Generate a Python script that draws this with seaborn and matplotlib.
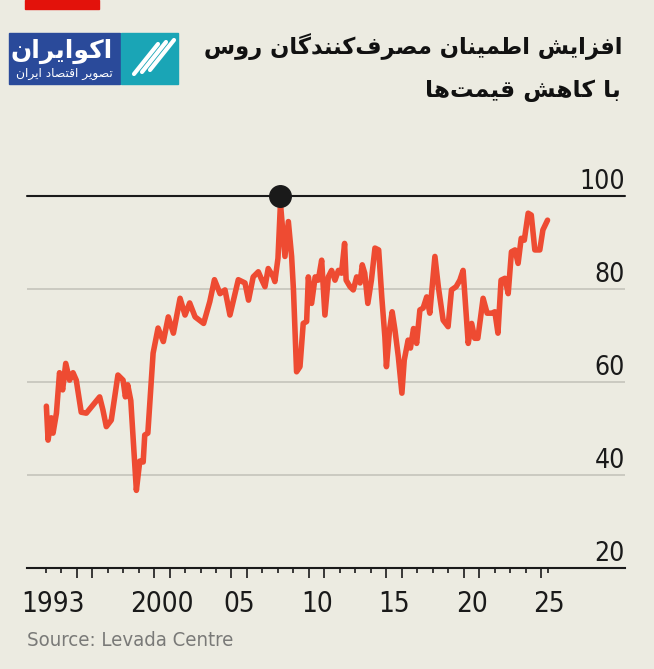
import matplotlib
matplotlib.use("Agg")
import matplotlib.pyplot as plt
import seaborn as sns
import pandas as pd
from matplotlib import font_manager as fm
from matplotlib.patches import Rectangle

# Levada consumer sentiment index (fractional years)
dates = [1993.05, 1993.16, 1993.37, 1993.48, 1993.70, 1993.90, 1994.10, 1994.30,
         1994.55, 1994.77, 1994.98, 1995.30, 1995.63, 1996.49, 1996.70, 1996.92,
         1997.24, 1997.67, 1998.00, 1998.15, 1998.30, 1998.50, 1998.86, 1999.08,
         1999.30, 1999.40, 1999.60, 1999.94, 2000.26, 2000.60, 2000.92, 2001.25,
         2001.68, 2002.00, 2002.30, 2002.65, 2003.20, 2003.60, 2003.90, 2004.26,
         2004.58, 2004.90, 2005.44, 2005.87, 2006.10, 2006.40, 2006.73, 2006.95,
         2007.16, 2007.37, 2007.70, 2007.80, 2008.00, 2008.16, 2008.45, 2008.67,
         2008.88, 2009.00, 2009.20, 2009.42, 2009.63, 2009.85, 2009.96, 2010.17,
         2010.40, 2010.60, 2010.82, 2011.03, 2011.25, 2011.46, 2011.68, 2011.90,
         2012.10, 2012.30, 2012.40, 2012.65, 2012.86, 2013.08, 2013.30, 2013.44,
         2013.60, 2013.80, 2014.03, 2014.26, 2014.50, 2014.70, 2014.90, 2015.00,
         2015.20, 2015.37, 2015.55, 2015.77, 2016.00, 2016.15, 2016.40, 2016.55,
         2016.75, 2016.95, 2017.16, 2017.37, 2017.60, 2017.80, 2018.13, 2018.35,
         2018.66, 2018.98, 2019.20, 2019.50, 2019.74, 2019.95, 2020.28, 2020.50,
         2020.70, 2020.90, 2021.24, 2021.50, 2021.80, 2022.00, 2022.20, 2022.40,
         2022.65, 2022.86, 2023.07, 2023.30, 2023.50, 2023.70, 2023.90, 2024.15,
         2024.35, 2024.58, 2024.90, 2025.10, 2025.40]
index = [54.8, 47.5, 52.3, 49.0, 53.3, 62.0, 58.3, 64.0,
         60.4, 62.0, 60.4, 53.5, 53.3, 56.8, 54.0, 50.4,
         51.8, 61.5, 60.4, 56.8, 59.4, 56.0, 36.7, 43.0,
         42.8, 48.6, 49.0, 66.2, 71.6, 68.7, 74.0, 70.5,
         78.0, 74.4, 77.0, 74.0, 72.6, 77.3, 82.0, 79.0,
         79.8, 74.4, 82.0, 81.3, 77.6, 82.6, 83.7, 82.0,
         80.5, 84.4, 82.6, 81.6, 86.6, 98.4, 87.0, 94.5,
         87.0, 79.8, 62.2, 63.3, 72.6, 73.0, 82.6, 76.9,
         82.6, 81.9, 86.2, 74.4, 82.6, 84.0, 81.9, 84.0,
         83.4, 89.8, 81.9, 80.5, 79.8, 82.6, 81.3, 85.2,
         83.4, 76.9, 81.9, 88.8, 88.4, 78.3, 69.7, 63.3,
         71.2, 75.1, 71.2, 65.4, 57.6, 64.7, 69.0, 67.3,
         71.5, 68.3, 75.5, 75.9, 78.3, 74.8, 87.0, 80.5,
         73.3, 71.9, 79.8, 80.5, 81.9, 84.0, 68.3, 72.6,
         69.4, 69.4, 78.0, 74.8, 74.8, 75.1, 70.5, 81.9,
         82.3, 79.0, 88.0, 88.4, 85.5, 90.9, 90.5, 96.3,
         95.9, 88.4, 88.4, 92.7, 94.8]

label_years = [1993, 2000, 2005, 2010, 2015, 2020, 2025]
year_labels = ["1993", "2000", "05", "10", "15", "20", "25"]
y_ticks = [20, 40, 60, 80, 100]
reference = 100

title_lines = ["افزایش اطمینان مصرف‌کنندگان روس", "با کاهش قیمت‌ها"]
source = "Source: Levada Centre"
logo_name = "اکوایران"
logo_tag = "تصویر اقتصاد ایران"

# matplotlib has no Arabic shaping: pick presentation forms by hand
# (isolated, final, initial, medial)
FORMS = {
    "ا": ("\uFE8D", "\uFE8E", None, None),
    "ب": ("\uFE8F", "\uFE90", "\uFE91", "\uFE92"),
    "ت": ("\uFE95", "\uFE96", "\uFE97", "\uFE98"),
    "د": ("\uFEA9", "\uFEAA", None, None),
    "ر": ("\uFEAD", "\uFEAE", None, None),
    "ز": ("\uFEAF", "\uFEB0", None, None),
    "س": ("\uFEB1", "\uFEB2", "\uFEB3", "\uFEB4"),
    "ش": ("\uFEB5", "\uFEB6", "\uFEB7", "\uFEB8"),
    "ص": ("\uFEB9", "\uFEBA", "\uFEBB", "\uFEBC"),
    "ط": ("\uFEC1", "\uFEC2", "\uFEC3", "\uFEC4"),
    "ف": ("\uFED1", "\uFED2", "\uFED3", "\uFED4"),
    "ق": ("\uFED5", "\uFED6", "\uFED7", "\uFED8"),
    "م": ("\uFEE1", "\uFEE2", "\uFEE3", "\uFEE4"),
    "ن": ("\uFEE5", "\uFEE6", "\uFEE7", "\uFEE8"),
    "ه": ("\uFEE9", "\uFEEA", "\uFEEB", "\uFEEC"),
    "و": ("\uFEED", "\uFEEE", None, None),
    "ک": ("\uFB8E", "\uFB8F", "\uFB90", "\uFB91"),
    "گ": ("\uFB92", "\uFB93", "\uFB94", "\uFB95"),
    "ی": ("\uFBFC", "\uFBFD", "\uFBFE", "\uFBFF"),
}


def shape(text):
    def dual(c):
        return c in FORMS and FORMS[c][2] is not None

    out = []
    for i, c in enumerate(text):
        if c not in FORMS:
            if c != "\u200c":
                out.append(c)
            continue
        prev = text[i - 1] if i > 0 else ""
        nxt = text[i + 1] if i + 1 < len(text) else ""
        jp = dual(prev)
        jn = dual(c) and nxt in FORMS
        iso, fin, ini, med = FORMS[c]
        if jp and jn:
            out.append(med)
        elif jp:
            out.append(fin)
        elif jn:
            out.append(ini)
        else:
            out.append(iso)
    return "".join(reversed(out))


# look for a narrow sans for the numbers, otherwise Liberation Sans a bit smaller
narrow = None
for want in ["LiberationSansNarrow-Regular", "DejaVuSansCondensed.ttf",
             "RobotoCondensed-Regular", "Condensed-Regular", "Narrow-Regular"]:
    hits = [f.fname for f in fm.fontManager.ttflist if want in f.fname]
    if hits:
        narrow = hits[0]
        break
if narrow:
    num_font = fm.FontProperties(fname=narrow)
    xsize, ysize, ssize = 20, 19, 14.6
else:
    num_font = fm.FontProperties(family="Liberation Sans")
    xsize, ysize, ssize = 17.5, 17, 13

bg = "#ECEBE1"
red_line = "#EE4B32"

sns.set_theme(style="white", rc={"axes.facecolor": bg, "figure.facecolor": bg})
plt.rcParams["font.family"] = ["Liberation Sans", "DejaVu Sans"]

df = pd.DataFrame({"date": dates, "index": index})

fig = plt.figure(figsize=(6.54, 6.69), dpi=100)
W, H = 654, 669
ax = fig.add_axes([27 / W, 1 - 568 / H, 598 / W, 372 / H])
ax.set_xlim(1991.8, 2030.4)
ax.set_ylim(20, 100)

for v in y_ticks[1:-1]:
    ax.axhline(v, color="#C2C1B8", lw=1.1, zorder=1)
ax.axhline(reference, color="#1a1a1a", lw=1.5, zorder=2, clip_on=False)

sns.lineplot(data=df, x="date", y="index", ax=ax, color=red_line, lw=4,
             zorder=3, clip_on=False)

peak = df.loc[df["index"].idxmax(), "date"]
ax.plot([peak], [reference], "o", ms=15.5, color="#1a1a1a", zorder=5, clip_on=False)

for s in ["left", "right", "top"]:
    ax.spines[s].set_visible(False)
ax.spines["bottom"].set_color("#1a1a1a")
ax.spines["bottom"].set_linewidth(1.5)

# year boundary ticks: tall ones frame the labelled years
first, last = int(dates[0]), int(dates[-1])
tall = sorted({y for y in range(first, last + 1) if y % 5 == 0} |
              {y + 1 for y in range(first, last) if y % 5 == 0})
short = [y for y in range(first, last + 1) if y not in tall] + [dates[-1]]
ax.set_xticks(tall)
ax.set_xticks(short, minor=True)
ax.tick_params(axis="x", which="major", length=7.5, width=1.2, color="#1a1a1a",
               direction="out", labelbottom=False, bottom=True)
ax.tick_params(axis="x", which="minor", length=3.8, width=1.2, color="#1a1a1a",
               direction="out", bottom=True)
ax.set_yticks([])
ax.set_xlabel("")
ax.set_ylabel("")

for yr, lbl in zip(label_years, year_labels):
    ax.annotate(lbl, xy=(yr + 0.5, 0), xycoords=("data", "axes fraction"),
                xytext=(0, -15.5), textcoords="offset points", ha="center",
                va="top", fontproperties=num_font, fontsize=xsize, color="#1a1a1a")

for v in y_ticks:
    ax.annotate(str(v), xy=(1, v), xycoords=("axes fraction", "data"),
                xytext=(0, 5), textcoords="offset points", ha="right",
                va="baseline", fontproperties=num_font, fontsize=ysize,
                color="#1a1a1a")

fig.text(27 / W, 1 - 641 / H, source, fontproperties=num_font, fontsize=ssize,
         color="#7a7a78", va="center")

# red Economist tag
fig.patches.append(Rectangle((25 / W, 1 - 9 / H), 74 / W, 9 / H,
                             transform=fig.transFigure, color="#E3120B"))

# title (Persian, right aligned)
fig.text(623 / W, 1 - 47 / H, shape(title_lines[0]), fontsize=16.3, fontweight="bold",
         ha="right", va="center", family="DejaVu Sans", color="#111111")
fig.text(621 / W, 1 - 90 / H, shape(title_lines[1]), fontsize=16.8, fontweight="bold",
         ha="right", va="center", family="DejaVu Sans", color="#111111")

# logo
fig.patches.append(Rectangle((9 / W, 1 - 84 / H), 111 / W, 51 / H,
                             transform=fig.transFigure, color="#2A4A9A"))
fig.patches.append(Rectangle((121 / W, 1 - 84 / H), 57 / W, 51 / H,
                             transform=fig.transFigure, color="#1AA5B6"))
for k in range(3):
    fig.lines.append(plt.Line2D([(134 + k * 8) / W, (158 + k * 8) / W],
                                [1 - (74 - k * 2) / H, 1 - (44 - k * 2) / H],
                                transform=fig.transFigure, color="white", lw=3))
fig.text(113 / W, 1 - 51 / H, shape(logo_name), fontsize=18, fontweight="bold",
         ha="right", va="center", family="DejaVu Sans", color="white")
fig.text(113 / W, 1 - 74 / H, shape(logo_tag), fontsize=8.8,
         ha="right", va="center", family="DejaVu Sans", color="white")

fig.savefig("out.png", dpi=100, facecolor=bg)
